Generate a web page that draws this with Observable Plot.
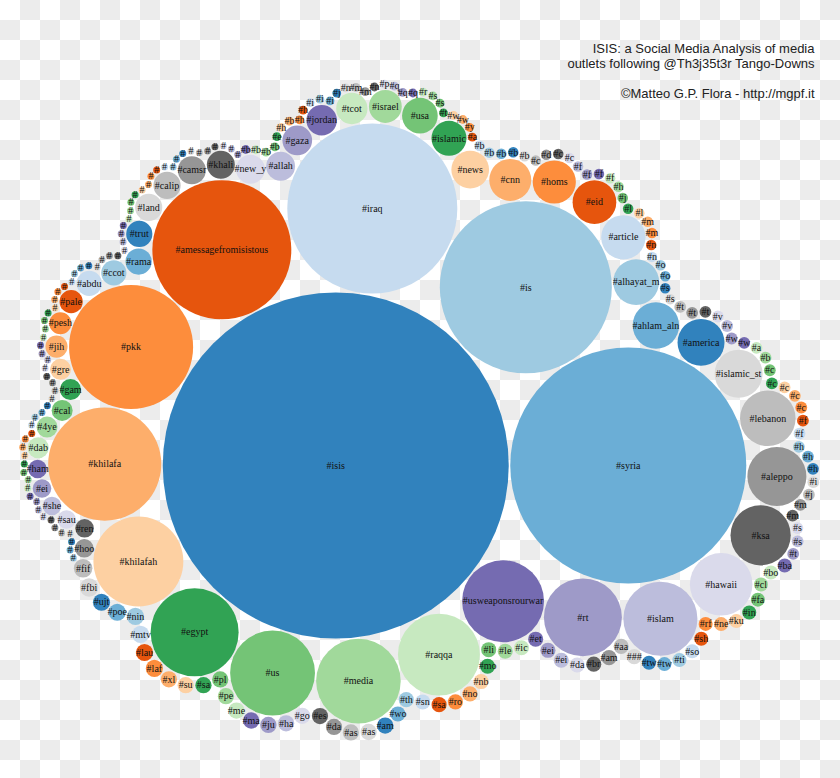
<!DOCTYPE html>
<html>
<head>
<meta charset="utf-8">
<script src="https://cdn.jsdelivr.net/npm/d3@7"></script>
<script src="https://cdn.jsdelivr.net/npm/@observablehq/plot@0.6"></script>
<style>
html, body { margin: 0; padding: 0; }
body {
  width: 840px; height: 778px; overflow: hidden;
  background-color: #ffffff;
  background-image: conic-gradient(#ececec 25%, #ffffff 0 50%, #ececec 0 75%, #ffffff 0);
  background-size: 40px 40px;
}
</style>
</head>
<body>
<div id="chart"></div>
<script>
// Hashtags in pack order (largest first, as drawn in the spiral), labels as displayed (truncated)
const labels = [
  "#isis","#syria","#is","#iraq","#amessagefromisistous","#pkk","#khilafa","#khilafah","#egypt","#us",
  "#media","#raqqa","#usweaponsrourwar","#rt","#islam","#hawaii","#ksa","#aleppo","#lebanon","#islamic_st",
  "#america","#ahlam_aln","#alhayat_m","#article","#eid","#homs","#cnn","#news","#islamic","#usa",
  "#israel","#tcot","#jordan","#gaza","#allah","#new_y","#khali","#camsr","#calip","#land",
  "#trut","#rama","#ccot","#abdu","#pale","#pesh","#jih","#gre","#gam","#cal",
  "#4ye","#dab","#ham","#ei","#she","#sau","#ren","#hoo","#fif","#fbi",
  "#ujt","#poe","#nin","#mtv","#lau","#laf",
  "#xl","#su","#sa","#pl","#pe","#me","#ma","#ju","#ha","#go","#es","#da","#as","#as","#am",
  "#wo","#th","#sn","#sa","#ro","#no","#nb","#mo","#li","#le","#ic","#et","#ei","#ei","#da","#br","#am","#aa","###",
  "#tw","#tw","#ti","#so","#sh","#rf","#ne","#ku","#in","#fa","#cl","#bo","#ba",
  "#t","#s","#s","#m","#m","#j","#i","#h","#h","#h","#f","#f","#c","#c","#c","#c","#c","#b","#a","#w",
  "#w","#v","#v","#t","#t","#t",
  "#s","#s","#o","#o","#n","#n","#m","#m","#l","#l","#j","#h","#f","#f",
  "#f","#f","#c","#c","#d","#c","#b","#b","#b","#b","#b",
  "#a","#y","#w","#w","#t","#s","#s","#r","#q","#q","#q","#p","#n","#m","#m","#n","#j","#i","#i","#i",
  "#h","#h","#b","#h","#e","#b","#b","#b","#b",
  "#","#","#","#","#","#","#","#","#","#","#","#","#","#","#","#","#","#","#","#",
  "#","#","#","#","#","#","#","#","#","#","#","#","#","#","#","#","#","#","#","#",
  "#","#","#","#","#","#","#","#","#","#","#","#","#","#","#","#","#","#","#","#",
  "#","#","#","#","#","#","#","#","#","#"
];
// Weights (circle area is proportional to the weight)
const weights = [
  2443,1137,604,590,394,314,261,165,158,147,
  146,137,137,124,112,80,74,71,63,47,
  45,44,43,40,39,38,36,29,25,26,
  22,20,19,18,17,17,16,16,15,15,
  14,14,13,13,11,10,10,9,9,9,
  9,9,7,7,7,7,7,7,7,7,
  6,6,6,6,6,6,
  5.4,5.4,5.4,5.4,5.4,5.4,5.4,5.4,5.4,5.4,5.4,5.4,5.4,5.4,5.4,
  4.65,4.65,4.65,4.65,4.65,4.65,4.65,4.65,4.65,4.65,4.65,4.65,4.65,4.65,4.65,4.65,4.65,4.65,4.65,
  4,4,4,4,4,4,4,4,4,4,4,4,4,
  2.84,2.84,2.84,2.84,2.84,2.84,2.84,2.84,2.84,2.84,2.84,2.84,2.84,2.84,2.84,2.84,2.84,2.84,2.84,2.84,
  2.84,2.84,2.84,2.84,2.84,2.84,
  2.25,2.25,2.25,2.25,2.25,2.25,2.25,2.25,2.25,2.25,2.25,2.25,2.25,2.25,
  2.25,2.25,2.25,2.25,2.25,2.25,2.25,2.25,2.25,2.25,2.25,
  1.58,1.58,1.58,1.58,1.58,1.58,1.58,1.58,1.58,1.58,1.58,1.58,1.58,1.58,1.58,1.58,1.58,1.58,1.58,1.58,
  1.58,1.58,1.58,1.58,1.58,1.58,1.58,1.58,1.58,
  1,1,1,1,1,1,1,1,1,1,1,1,1,1,1,1,1,1,1,1,
  1,1,1,1,1,1,1,1,1,1,1,1,1,1,1,1,1,1,1,1,
  1,1,1,1,1,1,1,1,1,1,1,1,1,1,1,1,1,1,1,1,
  1,1,1,1,1,1,1,1,1,1
];
const titleLines = "ISIS: a Social Media Analysis of media\noutlets following @Th3j35t3r Tango-Downs";
const creditLine = "\u00A9Matteo G.P. Flora - http://mgpf.it";

// category20c palette (cycled in draw order)
const palette = ["#3182bd","#6baed6","#9ecae1","#c6dbef","#e6550d","#fd8d3c","#fdae6b","#fdd0a2",
  "#31a354","#74c476","#a1d99b","#c7e9c0","#756bb1","#9e9ac8","#bcbddc","#dadaeb",
  "#636363","#969696","#bdbdbd","#d9d9d9"];

const W = 840, H = 778;
const K = 3.5;          // pixels per sqrt(weight)
const GAP = 1.5;        // pixel gap between circles
const CX = 509, CY = 465; // where the layout origin sits

// Classic (d3 v3) front-chain circle packing of siblings, in the given order
function packSiblings(nodes) {
  const n = nodes.length;
  for (const d of nodes) { d._next = d; d._prev = d; }
  const insert = (a, b) => { const c = a._next; a._next = b; b._prev = a; b._next = c; c._prev = b; };
  const splice = (a, b) => { a._next = b; b._prev = a; };
  const intersects = (a, b) => { const dx = b.x - a.x, dy = b.y - a.y, dr = a.r + b.r; return 0.999 * dr * dr > dx * dx + dy * dy; };
  const place = (a, b, c) => {
    let db = a.r + c.r; const dx = b.x - a.x, dy = b.y - a.y;
    if (db && (dx || dy)) {
      let da = b.r + c.r; const dc = dx * dx + dy * dy;
      da *= da; db *= db;
      const x = 0.5 + (db - da) / (2 * dc);
      const y = Math.sqrt(Math.max(0, 2 * da * (db + dc) - (db -= dc) * db - da * da)) / (2 * dc);
      c.x = a.x + x * dx + y * dy;
      c.y = a.y + x * dy - y * dx;
    } else { c.x = a.x + db; c.y = a.y; }
  };
  let a = nodes[0]; a.x = -a.r; a.y = 0;
  if (n > 1) {
    let b = nodes[1]; b.x = b.r; b.y = 0;
    if (n > 2) {
      let c = nodes[2];
      place(a, b, c);
      insert(a, c); a._prev = c; insert(c, b);
      b = a._next;
      for (let i = 3; i < n; i++) {
        place(a, b, c = nodes[i]);
        let isect = 0, s1 = 1, s2 = 1, j, k;
        for (j = b._next; j !== b; j = j._next, s1++) {
          if (intersects(j, c)) { isect = 1; break; }
        }
        if (isect === 1) {
          for (k = a._prev; k !== j._prev; k = k._prev, s2++) {
            if (intersects(k, c)) break;
          }
        }
        if (isect) {
          if (s1 < s2 || (s1 === s2 && b.r < a.r)) splice(a, b = j);
          else splice(a = k, b);
          i--;
        } else {
          insert(a, c);
          b = c;
        }
      }
    }
  }
  for (const d of nodes) { delete d._next; delete d._prev; }
}

const pad = GAP / (2 * K);
const nodes = labels.map((label, i) => ({ id: String(i), label, value: weights[i], r: Math.sqrt(weights[i]) + pad }));
packSiblings(nodes);

const maxV = d3.max(weights);
const chart = Plot.plot({
  width: W, height: H, margin: 0,
  style: { background: "transparent", overflow: "visible" },
  x: { domain: [-CX / K, (W - CX) / K], range: [0, W], axis: null },
  y: { domain: [-CY / K, (H - CY) / K], range: [0, H], axis: null },
  r: { type: "sqrt", domain: [0, maxV], range: [0, K * Math.sqrt(maxV)] },
  color: { type: "ordinal", domain: nodes.map(d => d.id), range: palette },
  marks: [
    Plot.dot(nodes, { x: "x", y: "y", r: "value", fill: "id", stroke: "none", fillOpacity: 1, sort: null }),
    Plot.text(nodes, { x: "x", y: "y", text: "label", fill: "#111", fontSize: 10,
      fontFamily: "'Liberation Serif', 'DejaVu Serif', serif" }),
    Plot.text([titleLines], { frameAnchor: "top-right", dx: -26, dy: 41, textAnchor: "end", lineAnchor: "top",
      lineHeight: 1.2, fontSize: 13, fill: "#222", fontFamily: "'Liberation Sans', Arial, Helvetica, sans-serif" }),
    Plot.text([creditLine], { frameAnchor: "top-right", dx: -26, dy: 88, textAnchor: "end", lineAnchor: "top",
      fontSize: 13, fill: "#222", fontFamily: "'Liberation Sans', Arial, Helvetica, sans-serif" })
  ]
});
document.getElementById("chart").appendChild(chart);
</script>
</body>
</html>
